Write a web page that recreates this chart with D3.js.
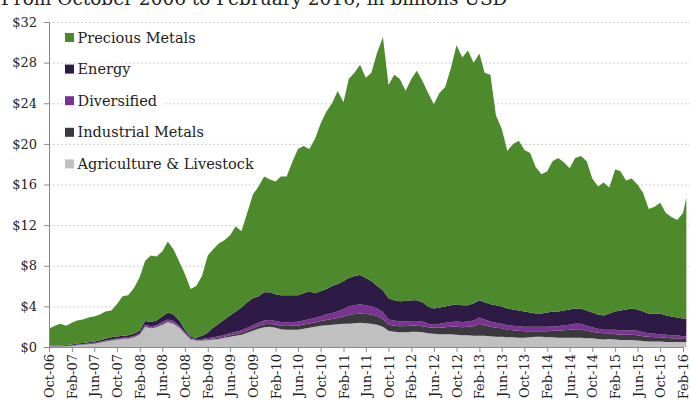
<!DOCTYPE html>
<html>
<head>
<meta charset="utf-8">
<script src="https://cdn.jsdelivr.net/npm/d3@7"></script>
<style>
  body { margin: 0; background: #fff; }
  svg { display: block; }
  text { font-family: "DejaVu Serif", serif; fill: #222; }
</style>
</head>
<body>
<svg id="chart" width="690" height="401"></svg>
<script>
// monthly readings, Oct-06 .. Feb-16, last point mid Feb-16 (billions USD)
var firstMonth = "2006-10-01", lastPoint = "2016-02-19", lastTick = "2016-02-01";
var keys = ["agriculture", "industrial", "diversified", "energy", "precious"];
var names = ["Agriculture & Livestock", "Industrial Metals", "Diversified", "Energy", "Precious Metals"];
var yTicks = [0, 4, 8, 12, 16, 20, 24, 28, 32];

var agriculture = [0.05,0.05,0.05,0.08,0.1,0.18,0.22,0.28,0.33,0.42,
    0.55,0.65,0.72,0.78,0.82,0.95,1.2,2.0,1.85,1.95,
    2.2,2.45,2.3,1.9,1.3,0.75,0.65,0.65,0.7,0.75,
    0.8,0.9,1.0,1.1,1.2,1.4,1.6,1.8,1.95,2.0,
    1.9,1.75,1.7,1.7,1.7,1.8,1.9,2.0,2.1,2.15,
    2.2,2.25,2.3,2.3,2.35,2.4,2.35,2.3,2.2,2.0,
    1.6,1.5,1.45,1.45,1.5,1.5,1.45,1.35,1.3,1.25,
    1.25,1.25,1.2,1.15,1.15,1.1,1.1,1.1,1.05,1.0,
    1.0,0.95,0.95,0.9,0.9,0.95,1.0,1.0,0.95,0.95,
    0.9,0.9,0.9,0.9,0.9,0.85,0.85,0.8,0.75,0.8,
    0.75,0.7,0.7,0.7,0.65,0.6,0.55,0.55,0.55,0.5,
    0.5,0.5,0.5,0.5];
var industrial = [0.02,0.02,0.02,0.02,0.03,0.03,0.03,0.03,0.04,0.04,
    0.04,0.04,0.05,0.05,0.05,0.05,0.06,0.08,0.08,0.08,
    0.1,0.1,0.1,0.08,0.06,0.05,0.05,0.05,0.06,0.08,
    0.1,0.12,0.15,0.18,0.2,0.22,0.25,0.28,0.3,0.3,
    0.32,0.35,0.38,0.4,0.4,0.42,0.42,0.42,0.45,0.5,
    0.55,0.6,0.7,0.85,0.9,0.9,0.9,0.9,0.85,0.75,
    0.6,0.6,0.6,0.62,0.6,0.6,0.6,0.6,0.6,0.65,
    0.7,0.75,0.8,0.8,0.85,0.95,1.2,1.05,0.95,0.9,
    0.85,0.75,0.7,0.7,0.65,0.6,0.55,0.55,0.6,0.65,
    0.7,0.75,0.8,0.85,0.85,0.75,0.65,0.6,0.6,0.55,
    0.5,0.5,0.5,0.5,0.5,0.45,0.45,0.4,0.4,0.4,
    0.35,0.35,0.3,0.3];
var diversified = [0.03,0.03,0.03,0.03,0.03,0.04,0.04,0.04,0.05,0.05,
    0.06,0.06,0.07,0.07,0.08,0.08,0.09,0.12,0.12,0.12,
    0.15,0.15,0.15,0.12,0.1,0.08,0.08,0.1,0.1,0.12,
    0.15,0.18,0.2,0.22,0.25,0.28,0.3,0.32,0.35,0.35,
    0.35,0.35,0.35,0.35,0.38,0.4,0.42,0.45,0.48,0.55,
    0.6,0.65,0.75,0.85,0.85,0.9,0.85,0.8,0.75,0.7,
    0.5,0.5,0.45,0.45,0.45,0.45,0.45,0.35,0.3,0.4,
    0.45,0.45,0.5,0.5,0.5,0.55,0.6,0.55,0.5,0.5,
    0.45,0.45,0.45,0.45,0.45,0.45,0.45,0.45,0.45,0.45,
    0.45,0.5,0.5,0.55,0.55,0.5,0.45,0.4,0.35,0.35,
    0.45,0.45,0.45,0.45,0.45,0.4,0.35,0.35,0.3,0.3,
    0.3,0.3,0.25,0.25];
var energy = [0.05,0.05,0.06,0.07,0.08,0.1,0.1,0.12,0.13,0.15,
    0.17,0.2,0.2,0.22,0.2,0.22,0.25,0.35,0.4,0.45,
    0.55,0.7,0.65,0.5,0.24,0.12,0.12,0.3,0.54,0.95,
    1.25,1.5,1.75,2.0,2.25,2.5,2.65,2.6,2.8,2.75,
    2.63,2.65,2.67,2.65,2.62,2.68,2.76,2.43,2.47,2.5,
    2.65,2.7,2.75,2.8,2.9,2.9,2.7,2.5,2.2,2.15,
    2.1,2.0,2.0,2.0,2.05,2.05,1.9,1.7,1.6,1.6,
    1.6,1.65,1.7,1.65,1.6,1.7,1.7,1.7,1.7,1.7,
    1.7,1.65,1.6,1.55,1.5,1.4,1.3,1.3,1.4,1.45,
    1.45,1.45,1.5,1.5,1.5,1.5,1.45,1.4,1.4,1.6,
    1.8,1.95,2.05,2.15,2.1,2.05,1.95,2.0,2.05,1.9,
    1.85,1.75,1.75,1.75];
var precious = [1.65,1.95,2.14,1.9,2.16,2.25,2.31,2.43,2.45,2.54,
    2.68,2.65,3.16,3.88,3.95,4.5,5.3,5.95,6.55,6.3,
    6.4,7.0,6.4,5.8,5.5,4.7,5.1,5.9,7.6,7.7,
    7.9,7.8,7.9,8.4,7.5,8.8,10.2,10.8,11.4,11.1,
    11.1,11.7,11.7,13.1,14.4,14.5,14.0,15.2,16.5,17.5,
    18.0,19.0,17.6,19.6,20.0,20.7,19.7,20.5,23.0,24.9,
    21.0,22.2,21.9,20.7,21.8,22.6,21.8,21.0,20.1,21.1,
    21.6,23.4,25.5,24.4,25.1,23.7,24.3,22.6,22.6,18.7,
    17.5,15.5,16.3,16.7,15.9,15.7,14.4,13.7,13.9,14.8,
    15.1,14.6,13.9,14.8,15.0,14.7,13.2,12.6,13.1,12.4,
    14.0,13.7,12.7,12.8,12.3,11.7,10.3,10.5,10.9,10.1,
    9.8,9.6,10.4,11.9];

var colors = {
    agriculture: "#c0c0c0",
    industrial: "#3a393d",
    diversified: "#7a3393",
    energy: "#2d1b45",
    precious: "#4c8a2c"
};

var svg = d3.select("#chart"),
    plotLeft = 49, plotRight = 683, plotTop = 22, plotBottom = 347;

var parse = d3.timeParse("%Y-%m-%d");
var series = {agriculture: agriculture, industrial: industrial, diversified: diversified, energy: energy, precious: precious};

var rows = agriculture.map(function(d, i) {
    var row = {date: i < agriculture.length - 1 ? d3.timeMonth.offset(parse(firstMonth), i) : parse(lastPoint)};
    keys.forEach(function(k) { row[k] = series[k][i]; });
    return row;
});

var x = d3.scaleTime()
    .domain([parse(firstMonth), parse(lastTick)])
    .range([plotLeft, plotRight]);

var y = d3.scaleLinear()
    .domain([0, 32])
    .range([plotBottom, plotTop]);

// title, mostly cropped off the top
svg.append("text")
    .attr("x", 1)
    .attr("y", 5)
    .attr("font-size", 18.5)
    .text("From October 2006 to February 2016, in billions USD");

// dotted grid
svg.append("g")
    .selectAll("line")
    .data(yTicks.filter(function(d) { return d > 0; }))
    .enter().append("line")
    .attr("x1", plotLeft)
    .attr("x2", 690)
    .attr("y1", function(d) { return y(d) + 0.5; })
    .attr("y2", function(d) { return y(d) + 0.5; })
    .attr("stroke", "#cfcfcf")
    .attr("stroke-dasharray", "2,2");

var stack = d3.stack().keys(keys);
var area = d3.area()
    .x(function(d) { return x(d.data.date); })
    .y0(function(d) { return y(d[0]); })
    .y1(function(d) { return y(d[1]); });

svg.append("g")
    .selectAll("path")
    .data(stack(rows))
    .enter().append("path")
    .attr("d", area)
    .attr("fill", function(d) { return colors[d.key]; });

// axes
var yAxis = svg.append("g")
    .attr("transform", "translate(" + plotLeft + ",0)")
    .call(d3.axisLeft(y).tickValues(yTicks).tickSize(5).tickPadding(7)
        .tickFormat(function(d) { return "$" + d; }));

var xAxis = svg.append("g")
    .attr("transform", "translate(0," + plotBottom + ")")
    .call(d3.axisBottom(x)
        .tickValues(d3.timeMonth.range(parse(firstMonth), d3.timeDay.offset(parse(lastTick), 1), 4))
        .tickSize(5)
        .tickFormat(d3.timeFormat("%b-%y")));

[yAxis, xAxis].forEach(function(a) {
    a.select(".domain").attr("stroke", "#8a8a8a");
    a.selectAll(".tick line").attr("stroke", "#8a8a8a");
    a.selectAll("text").attr("font-family", "DejaVu Serif").attr("font-size", 13).attr("fill", "#222");
});

xAxis.selectAll("text")
    .attr("transform", "rotate(-90)")
    .attr("text-anchor", "end")
    .attr("x", -7)
    .attr("y", 0)
    .attr("dy", "0.35em");

// legend, top item first
var legend = svg.append("g")
    .selectAll("g")
    .data(keys.slice().reverse())
    .enter().append("g")
    .attr("transform", function(d, i) { return "translate(65," + (37.5 + i * 31.6) + ")"; });

legend.append("rect")
    .attr("x", 11)
    .attr("y", -6)
    .attr("width", function(d) { return 8 * names[keys.indexOf(d)].length; })
    .attr("height", 13)
    .attr("fill", "#fff");

legend.append("rect")
    .attr("x", 0)
    .attr("y", -4.5)
    .attr("width", 9)
    .attr("height", 9)
    .attr("fill", function(d) { return colors[d]; });

legend.append("text")
    .attr("x", 12.5)
    .attr("dy", "0.35em")
    .attr("font-size", 14.5)
    .text(function(d) { return names[keys.indexOf(d)]; });
</script>
</body>
</html>
